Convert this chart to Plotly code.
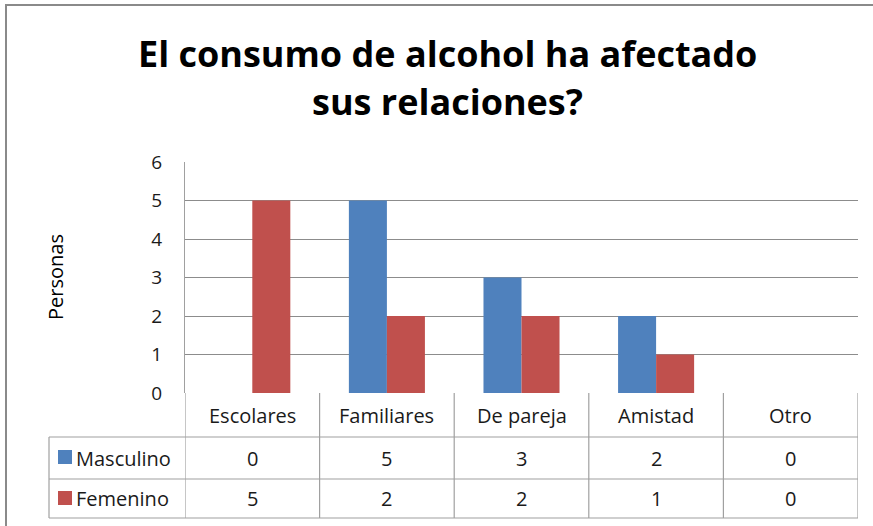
import plotly.graph_objects as go

categories = ["Escolares", "Familiares", "De pareja", "Amistad", "Otro"]
masculino = [0, 5, 3, 2, 0]
femenino = [5, 2, 2, 1, 0]
series_names = ["Masculino", "Femenino"]
y_ticks = [0, 1, 2, 3, 4, 5, 6]
title_lines = ["El consumo de alcohol ha afectado", "sus relaciones?"]
y_title = "Personas"

BLUE = "#4F81BD"
RED = "#C0504D"
GRID = "#8c8c8c"
TBL = "#a0a0a0"
FONT = "Open Sans"
TXT = "#1a1a1a"

W, H = 873, 526
L, R, T, B = 185, 858, 162, 393
PW, PH = R - L, B - T


def py(y):
    return (B - y) / PH


def px(x):
    return (x - L) / PW


fig = go.Figure()
fig.add_trace(go.Bar(x=categories, y=masculino, name=series_names[0],
                     marker=dict(color=BLUE, line=dict(width=0))))
fig.add_trace(go.Bar(x=categories, y=femenino, name=series_names[1],
                     marker=dict(color=RED, line=dict(width=0))))

shapes = []
row_cat_bottom = 437
row_m_bottom = 479
row_f_bottom = 518
left_tbl = 49
n = len(categories)
for i in range(n + 1):
    shapes.append(dict(type="line", xref="x", yref="paper", x0=i - 0.5, x1=i - 0.5,
                       y0=py(B), y1=py(row_f_bottom), line=dict(color=TBL, width=1.2)))
for yy in [row_cat_bottom, row_m_bottom, row_f_bottom]:
    shapes.append(dict(type="line", xref="paper", yref="paper", x0=px(left_tbl), x1=1,
                       y0=py(yy), y1=py(yy), line=dict(color=TBL, width=1.2)))
shapes.append(dict(type="line", xref="paper", yref="paper", x0=px(left_tbl), x1=px(left_tbl),
                   y0=py(row_cat_bottom), y1=py(row_f_bottom), line=dict(color=TBL, width=1.2)))
for color, yc in [(BLUE, 457), (RED, 498)]:
    shapes.append(dict(type="rect", xref="paper", yref="paper", x0=px(58), x1=px(72),
                       y0=py(yc - 7), y1=py(yc + 7), fillcolor=color, line=dict(width=0)))
shapes.append(dict(type="line", xref="paper", yref="paper", x0=px(6), x1=px(6),
                   y0=py(5), y1=py(540), line=dict(color="#8a8a8a", width=2)))
shapes.append(dict(type="line", xref="paper", yref="paper", x0=px(5), x1=px(880),
                   y0=py(5), y1=py(5), line=dict(color="#8a8a8a", width=2)))

annotations = []
tfont = dict(family=FONT, size=20, color=TXT)
for i, c in enumerate(categories):
    annotations.append(dict(xref="x", yref="paper", x=i, y=py((B + row_cat_bottom) / 2),
                            text=c, showarrow=False, font=tfont, yanchor="middle"))
    annotations.append(dict(xref="x", yref="paper", x=i, y=py((row_cat_bottom + row_m_bottom) / 2),
                            text=str(masculino[i]), showarrow=False, font=tfont, yanchor="middle"))
    annotations.append(dict(xref="x", yref="paper", x=i, y=py((row_m_bottom + row_f_bottom) / 2),
                            text=str(femenino[i]), showarrow=False, font=tfont, yanchor="middle"))
annotations.append(dict(xref="paper", yref="paper", x=px(74), y=py((row_cat_bottom + row_m_bottom) / 2),
                        text=series_names[0], showarrow=False, font=tfont, xanchor="left", yanchor="middle"))
annotations.append(dict(xref="paper", yref="paper", x=px(74), y=py((row_m_bottom + row_f_bottom) / 2),
                        text=series_names[1], showarrow=False, font=tfont, xanchor="left", yanchor="middle"))
for line, yc in zip(title_lines, [53, 102]):
    annotations.append(dict(xref="paper", yref="paper", x=px(447), y=py(yc), text="<b>" + line + "</b>",
                            showarrow=False, font=dict(family=FONT, size=36, color="#000"),
                            xanchor="center", yanchor="middle"))
annotations.append(dict(xref="paper", yref="paper", x=px(55), y=py(277), text=y_title,
                        showarrow=False, textangle=-90, font=dict(family=FONT, size=20, color="#000"),
                        xanchor="center", yanchor="middle"))

fig.update_layout(
    width=W, height=H,
    margin=dict(l=L, r=W - R, t=T, b=H - B, pad=0),
    paper_bgcolor="white", plot_bgcolor="white",
    barmode="group", bargap=0.435, bargroupgap=0,
    showlegend=False,
    shapes=shapes, annotations=annotations,
    xaxis=dict(type="category", range=[-0.5, n - 0.5], showticklabels=False, showgrid=False,
               zeroline=False, showline=False, ticks=""),
    yaxis=dict(range=[0, 6], tickvals=y_ticks, showgrid=True, gridcolor=GRID, gridwidth=1.2,
               zeroline=False, showline=True, linecolor=TBL, linewidth=1.2,
               ticks="", ticklabelstandoff=18,
               tickfont=dict(family=FONT, size=19, color=TXT)),
    font=dict(family=FONT),
)
fig.write_html("out.html", config={"displayModeBar": False},
               post_script="document.body.style.margin='0';document.body.style.overflow='hidden';")
